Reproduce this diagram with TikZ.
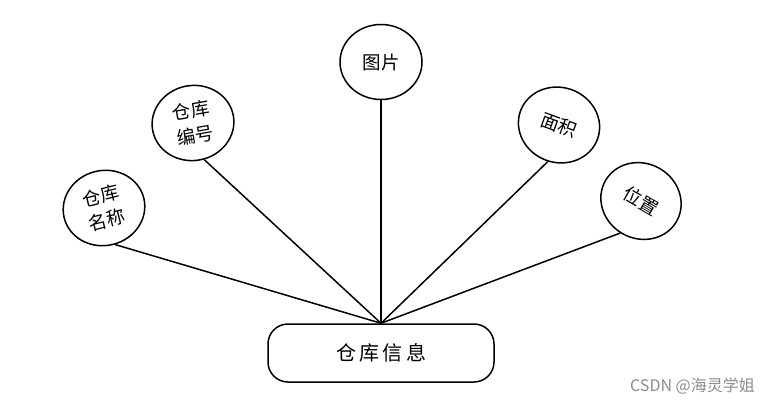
\documentclass[tikz,border=0pt]{standalone}
\usepackage{fontspec}
\newfontfamily\cjk{Noto Sans CJK SC}
\usetikzlibrary{shapes.geometric}
\begin{document}
\begin{tikzpicture}[x=1pt,y=-1pt,
  attr/.style={draw=black, line width=1.5pt, ellipse, minimum width=82pt, minimum height=75pt, inner sep=0pt, fill=white, align=center, font=\cjk\fontsize{18.5}{25}\selectfont},
  ent/.style={draw=black, line width=1.5pt, rounded corners=20pt, minimum width=226pt, minimum height=58pt, inner sep=0pt, font=\cjk\fontsize{20}{22}\selectfont},
  conn/.style={draw=black, line width=1.5pt}]
\useasboundingbox (0,0) rectangle (770,404);
\node[ent] (main) at (381,353) {仓\,库\,信\,息};
\node[attr, rotate=14] (e1) at (104,208) {仓库\\名称};
\node[attr, rotate=10] (e2) at (193,123) {仓库\\编号};
\node[attr] (e3) at (381,62) {图片};
\node[attr, rotate=-20] (e4) at (559,125) {面积};
\node[attr, rotate=-30] (e5) at (641,201) {位置};
\draw[conn] (main.north) -- (e1.-87);
\draw[conn] (main.north) -- (e2.-83);
\draw[conn] (main.north) -- (e3.south);
\draw[conn] (main.north) -- (e4.-87);
\draw[conn] (main.north) -- (e5.-93);
\node[font=\cjk\fontsize{16}{18}\selectfont, text=black!45, anchor=east, inner sep=0pt] (wm) at (755,386) {CSDN @海灵学姐};
\end{tikzpicture}
\end{document}
